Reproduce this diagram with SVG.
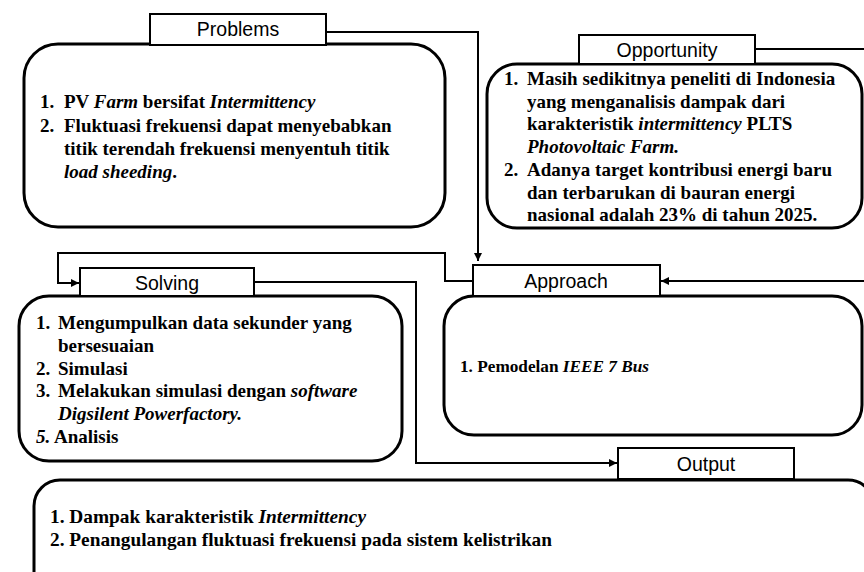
<svg xmlns="http://www.w3.org/2000/svg" width="864" height="572" viewBox="0 0 864 572">
<defs>
<marker id="ah" viewBox="0 0 10 10" refX="10" refY="5" markerWidth="4" markerHeight="4" orient="auto" markerUnits="strokeWidth"><path d="M0,0 L10,5 L0,10 z" fill="#000"/></marker>
<style>
.box{fill:#fff;stroke:#000;stroke-width:3}
.tab{fill:#fff;stroke:#000;stroke-width:2}
.lbl{font-family:"Liberation Sans",Arial,sans-serif;font-size:19.5px;fill:#000;text-anchor:middle}
.t{font-family:"Liberation Serif","Times New Roman",serif;font-weight:bold;font-size:19px;fill:#000}
.i{font-style:italic}
.conn{fill:none;stroke:#000;stroke-width:2}
</style>
</defs>
<rect width="864" height="572" fill="#fff"/>
<g id="connectors">
<path class="conn" d="M326,32 H478 V261" marker-end="url(#ah)"/>
<path class="conn" d="M755,49 H866"/>
<path class="conn" d="M473,281 H445 V253 H58 V283 H79" marker-end="url(#ah)"/>
<path class="conn" d="M254,282 H416 V463 H617" marker-end="url(#ah)"/>
<path class="conn" d="M866,281 H661" marker-end="url(#ah)"/>
</g>
<g id="problems">
<rect class="box" x="24" y="44" width="421" height="183" rx="34"/>
<rect class="tab" x="150" y="14" width="176" height="31"/>
<text class="lbl" x="238" y="36">Problems</text>
<text class="t" x="40" y="108">1.</text><text class="t" x="64" y="108">PV <tspan class="i">Farm</tspan> bersifat <tspan class="i">Intermittency</tspan></text>
<text class="t" x="40" y="132">2.</text><text class="t" x="64" y="132">Fluktuasi frekuensi dapat menyebabkan</text>
<text class="t" x="64" y="155">titik terendah frekuensi menyentuh titik</text>
<text class="t" x="64" y="178"><tspan class="i">load sheeding</tspan>.</text>
</g>
<g id="opportunity">
<rect class="box" x="487" y="64" width="375" height="164" rx="30"/>
<rect class="tab" x="579" y="35" width="176" height="29"/>
<text class="lbl" x="667" y="57">Opportunity</text>
<text class="t" x="504" y="85">1.</text><text class="t" x="527" y="85">Masih sedikitnya peneliti di Indonesia</text>
<text class="t" x="527" y="108">yang menganalisis dampak dari</text>
<text class="t" x="527" y="130">karakteristik  <tspan class="i">intermittency</tspan> PLTS</text>
<text class="t i" x="527" y="153">Photovoltaic Farm.</text>
<text class="t" x="504" y="176">2.</text><text class="t" x="527" y="176">Adanya target kontribusi energi baru</text>
<text class="t" x="527" y="199">dan terbarukan di bauran energi</text>
<text class="t" x="527" y="221">nasional adalah 23% di tahun 2025.</text>
</g>
<g id="solving">
<rect class="box" x="19" y="296" width="383" height="165" rx="30"/>
<rect class="tab" x="80" y="268" width="174" height="28"/>
<text class="lbl" x="167" y="290">Solving</text>
<text class="t" x="36" y="329">1.</text><text class="t" x="58" y="329">Mengumpulkan data sekunder yang</text>
<text class="t" x="58" y="352">bersesuaian</text>
<text class="t" x="36" y="375">2.</text><text class="t" x="58" y="375">Simulasi</text>
<text class="t" x="36" y="397">3.</text><text class="t" x="58" y="397">Melakukan simulasi dengan <tspan class="i">software</tspan></text>
<text class="t i" x="58" y="420">Digsilent Powerfactory.</text>
<text class="t" x="36" y="443"><tspan class="i">5.</tspan> Analisis</text>
</g>
<g id="approach">
<rect class="box" x="444" y="296" width="418" height="139" rx="30"/>
<rect class="tab" x="473" y="265" width="187" height="31"/>
<text class="lbl" x="566" y="288">Approach</text>
<text class="t" x="460" y="372" style="font-size:16px" textLength="189" lengthAdjust="spacingAndGlyphs">1.  Pemodelan <tspan class="i">IEEE 7 Bus</tspan></text>
</g>
<g id="output">
<rect class="box" x="34" y="480" width="840" height="130" rx="26"/>
<rect class="tab" x="618" y="448" width="176" height="31"/>
<text class="lbl" x="706" y="471">Output</text>
<text class="t" x="50" y="523" textLength="316" lengthAdjust="spacingAndGlyphs">1. Dampak karakteristik <tspan class="i">Intermittency</tspan></text>
<text class="t" x="50" y="546" textLength="502" lengthAdjust="spacingAndGlyphs">2. Penangulangan fluktuasi frekuensi pada sistem kelistrikan</text>
</g>
</svg>
